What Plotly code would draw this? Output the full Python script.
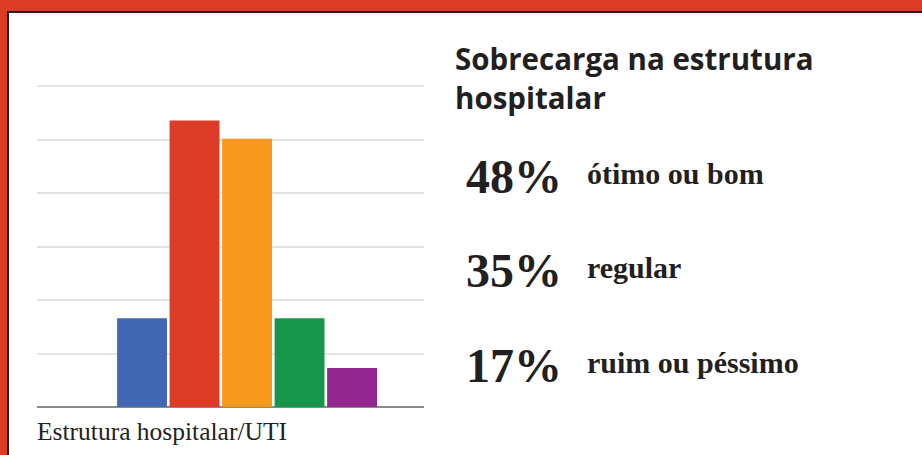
import plotly.graph_objects as go

# ---- data ----
categories = ["ótimo", "bom", "regular", "ruim", "péssimo"]
values = [16.6, 53.6, 50.2, 16.6, 7.3]
bar_colors = ["#4267B2", "#DC3C26", "#F7991F", "#16964A", "#92278F"]
axis_label = "Estrutura hospitalar/UTI"
title_lines = ["Sobrecarga na estrutura", "hospitalar"]
pct_values = ["48%", "35%", "17%"]
pct_labels = ["ótimo ou bom", "regular", "ruim ou péssimo"]

W, H = 922, 455
L, R, T, B = 37, 498, 81, 48
PW, PH = W - L - R, H - T - B


def px_x(px):
    return (px - L) / PW


def px_y(py):
    return (H - B - py) / PH


RED = "#DC3B26"
INK = "#231F20"
SERIF = "Liberation Serif, Times New Roman, serif"
SANS = "Open Sans, Noto Sans, sans-serif"

fig = go.Figure()
fig.add_trace(go.Bar(
    x=categories, y=values,
    marker=dict(color=bar_colors, line=dict(width=0)),
    hoverinfo="skip",
))

shapes = [
    dict(type="rect", xref="paper", yref="paper",
         x0=px_x(8), x1=px_x(W + 20), y0=px_y(H + 20), y1=px_y(12),
         fillcolor="white", line=dict(color="#222222", width=2), layer="below"),
]

annotations = [
    dict(text=axis_label, x=px_x(35), y=px_y(431), xref="paper", yref="paper",
         xanchor="left", yanchor="middle", showarrow=False,
         font=dict(family=SERIF, size=25.5, color=INK)),
    dict(text="<b>" + title_lines[0] + "</b>", x=px_x(453), y=px_y(59),
         xref="paper", yref="paper", xanchor="left", yanchor="middle",
         showarrow=False, font=dict(family=SANS, size=29.5, color=INK)),
    dict(text="<b>" + title_lines[1] + "</b>", x=px_x(453), y=px_y(97),
         xref="paper", yref="paper", xanchor="left", yanchor="middle",
         showarrow=False, font=dict(family=SANS, size=29.5, color=INK)),
]

num_base = [193, 287, 382]
for i, (pv, pl) in enumerate(zip(pct_values, pct_labels)):
    annotations.append(dict(
        text="<b>" + pv + "</b>", x=px_x(564), y=px_y(num_base[i] - 17),
        xref="paper", yref="paper", xanchor="right", yanchor="middle",
        showarrow=False, font=dict(family=SERIF, size=48, color=INK)))
    annotations.append(dict(
        text="<b>" + pl + "</b>", x=px_x(585), y=px_y(num_base[i] - 10 - 10),
        xref="paper", yref="paper", xanchor="left", yanchor="middle",
        showarrow=False, font=dict(family=SERIF, size=30, color=INK)))

fig.update_layout(
    width=W, height=H,
    margin=dict(l=L, r=R, t=T, b=B, pad=0),
    paper_bgcolor=RED,
    plot_bgcolor="rgba(0,0,0,0)",
    showlegend=False,
    bargap=0.05,
    shapes=shapes,
    annotations=annotations,
    xaxis=dict(type="category", range=[-2.0, 5.37], showticklabels=False,
               showgrid=False, zeroline=False, showline=False, ticks=""),
    yaxis=dict(range=[0, 61], dtick=10, showticklabels=False,
               showgrid=True, gridcolor="#E2E2E2", gridwidth=2,
               zeroline=True, zerolinecolor="#8A8A8A", zerolinewidth=2,
               showline=False, ticks=""),
)

fig.write_html("out.html", config={"displayModeBar": False},
               post_script="document.body.style.margin='0';document.body.style.overflow='hidden';")
